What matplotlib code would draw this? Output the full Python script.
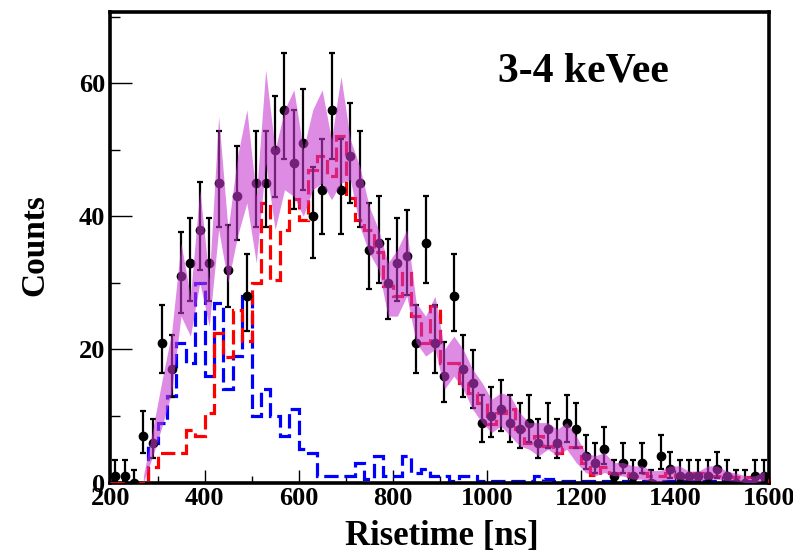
import numpy as np
import matplotlib.pyplot as plt

# binning of the risetime histograms (20 ns bins)
edges = np.arange(200, 1601, 20)
centers = edges[:-1] + 10

# measured counts
data_counts = [1, 1, 0, 7, 6, 21, 17, 31, 33, 38, 33, 45, 32, 43, 28, 45, 45, 50, 56, 48,
               51, 40, 44, 56, 44, 49, 45, 35, 36, 30, 33, 34, 21, 36, 21, 16, 28, 17, 15, 9,
               10, 11, 9, 8, 9, 6, 8, 6, 9, 8, 4, 3, 5, 1, 3, 1, 3, 0, 4, 2,
               1, 1, 1, 1, 2, 1, 0, 0, 1, 1]

# fitted components
red_counts = [0, 0, 0, 0, 2.4, 4.4, 4.4, 4.4, 7.9, 7.0, 10.4, 22.4, 18.8, 25.9, 21.3, 30, 42, 30.4, 38, 42.6,
              39.5, 47, 49, 46, 52, 42.7, 39.5, 38, 34.7, 29.5, 28, 31.5, 25, 21, 26.5, 18, 18, 15, 13.5, 12,
              8.8, 10.5, 11, 8, 6, 7, 5.5, 4.5, 5.4, 5.4, 2.9, 1.2, 2.4, 1.5, 1.5, 1, 1.5, 1, 1, 1.5,
              1, 1, 1.5, 1, 1, 1, 0.8, 0.8, 0.8, 1]
blue_counts = [0, 0, 0, 0, 6, 9, 13, 21, 18, 30, 16, 27, 14, 19, 28, 10, 14, 10, 7, 11,
               5, 4.5, 1, 1, 1, 1, 3, 0.5, 4, 1, 1, 4, 1.5, 2, 1, 1, 0.3, 1, 1, 0.3,
               0.3, 0.3, 0.3, 0.3, 0.3, 1, 0.5, 0.3, 0.3, 0.3, 0.3, 0.3, 0.3, 0.3, 0.3, 0.3, 0.3, 0.3, 0.3, 0.3,
               0.3, 0.3, 0.3, 0.3, 0.3, 0.3, 0.3, 0.3, 0.3, 0.3]

# shaded band (value and half width at bin centres)
band_mid = [0, 0, 0, 0.5, 6, 12, 18, 30.5, 25, 37, 27, 46.5, 34, 43, 49, 38, 55, 44, 50, 51,
            45, 50, 52, 47, 53, 48.5, 43, 38, 35, 29, 30, 33, 24, 22, 24, 17, 19, 17, 14, 12,
            10, 11, 10, 8, 7, 6.5, 7, 6, 7, 5, 3, 2.5, 3, 2, 2, 1.5, 1.5, 1, 1, 1.5,
            1.5, 1, 1, 1.5, 1.5, 1, 0.8, 0.5, 0.5, 1]
band_err = [0, 0, 0, 0.5, 2, 3.5, 4.5, 5.5, 3, 7, 3.5, 8.5, 4, 6, 7, 5, 7, 6, 6, 8,
            5, 6, 7, 4.5, 8, 3, 4.5, 3.5, 3, 4, 5, 5, 3, 3, 4, 3, 3, 3, 3, 3,
            2.5, 2.5, 3, 2.5, 2, 2.5, 2, 2, 2, 2, 1.5, 1.5, 1.5, 1, 1, 1, 1, 0.8, 0.8, 1,
            1, 0.7, 0.7, 1, 1, 0.7, 0.6, 0.5, 0.5, 0.7]

n = np.array(data_counts, dtype=float)
# poisson (Gehrels) intervals like ROOT's kPoisson errors
err_hi = 1 + np.sqrt(n + 0.75)
safe = np.where(n > 0, n, 1)
err_lo = np.where(n > 0, n - safe * (1 - 1 / (9 * safe) - 1 / (3 * np.sqrt(safe))) ** 3, 0)

serif = "Liberation Serif"
plt.rcParams['font.family'] = serif
plt.rcParams['font.weight'] = 'bold'

fig = plt.figure(figsize=(7.93, 5.55), dpi=100)
ax = fig.add_axes([0.1393, 0.1306, 0.8304, 0.8478])

ax.stairs(blue_counts, edges, color='#0000ff', lw=2.3, ls=(0, (4.5, 1.8)), zorder=2)
ax.stairs(red_counts, edges, color='#ff0000', lw=2.3, ls=(0, (4.5, 1.8)), zorder=3)

ax.errorbar(centers, n, yerr=[err_lo, err_hi], fmt='o', color='black', ms=6,
            elinewidth=1.6, capsize=2.5, capthick=1.6, zorder=4, clip_on=True)

lo = np.array(band_mid) - np.array(band_err)
hi = np.array(band_mid) + np.array(band_err)
ax.fill_between(centers[3:], lo[3:], hi[3:], color=(0.78, 0.22, 0.82), alpha=0.58, lw=0, zorder=5)

ax.set_xlim(200, 1600)
ax.set_ylim(0, 70.7)

ax.set_xticks(np.arange(200, 1601, 200))
ax.set_xticks(np.arange(300, 1600, 200), minor=True)
ax.set_yticks([0, 20, 40, 60])
ax.set_yticks([10, 30, 50, 70], minor=True)

ax.tick_params(axis='both', which='both', direction='in', top=False, right=False,
               labelsize=19, width=1.0, color='black')
ax.tick_params(axis='x', which='major', length=9.5, pad=3)
ax.tick_params(axis='x', which='minor', length=5)
ax.tick_params(axis='y', which='major', length=16, pad=4)
ax.tick_params(axis='y', which='minor', length=7)

for lab in ax.get_xticklabels() + ax.get_yticklabels():
    lab.set_fontweight('bold')

for side in ['left', 'right', 'top', 'bottom']:
    ax.spines[side].set_linewidth(2.6)

fig.text(442 / 793, 1 - 537 / 555, "Risetime [ns]", ha='center', va='center',
         fontsize=25, fontweight='bold')
fig.text(35 / 793, 1 - 245 / 555, "Counts", ha='center', va='center', rotation=90,
         fontsize=24, fontweight='bold')
fig.text(498 / 793, 1 - 71 / 555, "3-4 keVee", ha='left', va='center',
         fontsize=30, fontweight='bold')

fig.savefig("out.png", dpi=100)
